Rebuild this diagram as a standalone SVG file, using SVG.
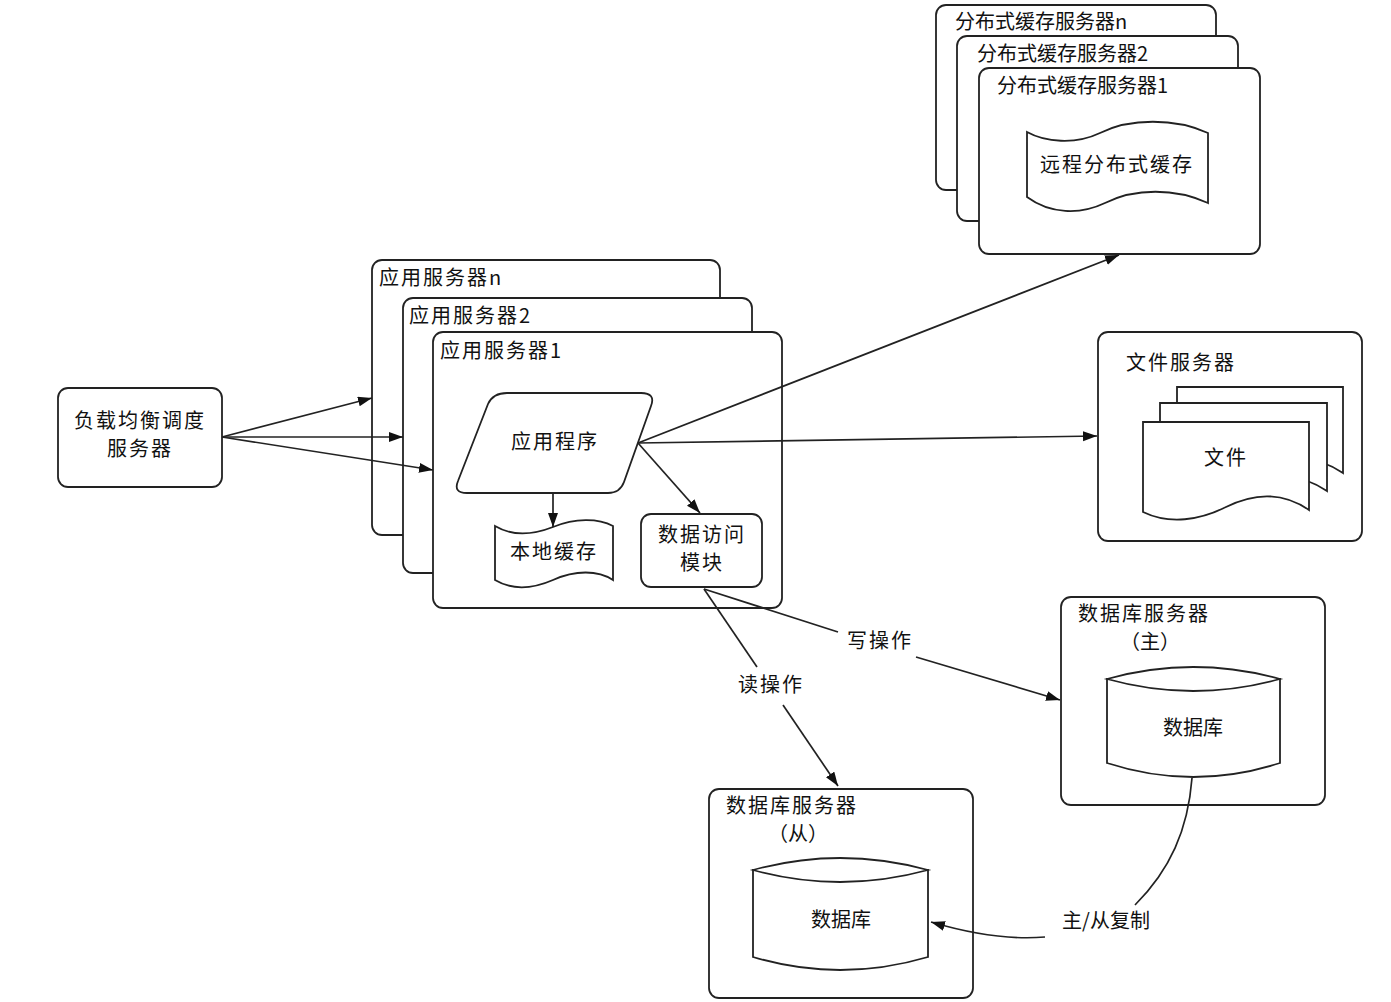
<svg xmlns="http://www.w3.org/2000/svg" width="1391" height="1002" viewBox="0 0 1391 1002">
<style>
.box{fill:#fff;stroke:#222;stroke-width:1.8}
.shape{fill:#fff;stroke:#222;stroke-width:1.8}
.t{font-family:"Noto Sans CJK SC","Noto Sans CJK JP",sans-serif;font-size:20px;fill:#111}
.m{text-anchor:middle}
.ls{letter-spacing:2px}
.ln{fill:none;stroke:#222;stroke-width:1.7}
</style>
<defs>
<marker id="ah" markerWidth="15" markerHeight="11" refX="14" refY="5" orient="auto" markerUnits="userSpaceOnUse">
<path d="M0,0 L14,5 L0,10 Z" fill="#111"/>
</marker>
</defs>
<rect width="1391" height="1002" fill="#fff"/>

<g id="dcache-n">
<rect class="box" x="936" y="5" width="280" height="185" rx="10"/>
<text class="t" x="955" y="29" font-size="19">分布式缓存服务器n</text>
</g>
<g id="dcache-2">
<rect class="box" x="957" y="36" width="281" height="185" rx="10"/>
<text class="t" x="977" y="61" font-size="19">分布式缓存服务器2</text>
</g>
<g id="dcache-1">
<rect class="box" x="979" y="68" width="281" height="186" rx="10"/>
<text class="t" x="997" y="93" font-size="19">分布式缓存服务器1</text>
<path class="shape" d="M1027,132 C1045,142 1075,145 1100,133 C1130,118 1175,118 1208,133 L1208,203 C1175,188 1135,188 1105,203 C1080,215 1050,214 1027,197 Z"/>
<text class="t m ls" x="1117" y="172">远程分布式缓存</text>
</g>

<g id="app-n">
<rect class="box" x="372" y="260" width="348" height="275" rx="10"/>
<text class="t ls" x="379" y="285">应用服务器n</text>
</g>
<g id="app-2">
<rect class="box" x="403" y="298" width="349" height="275" rx="10"/>
<text class="t ls" x="409" y="323">应用服务器2</text>
</g>
<g id="app-1">
<rect class="box" x="433" y="332" width="349" height="276" rx="10"/>
<text class="t ls" x="440" y="358">应用服务器1</text>
</g>
<g id="app-program">
<path class="shape" d="M507,393 L641,393 Q656,393 651,406 L624,482 Q620,493 608,493 L467,493 Q453,493 458,481 L488,404 Q493,393 507,393 Z"/>
<text class="t m ls" x="555" y="449">应用程序</text>
</g>
<g id="local-cache">
<path class="shape" d="M495,526 C510,535 530,536 553,527 C575,518 598,518 613,526 L613,580 C598,570 575,570 553,580 C530,590 510,589 495,580 Z"/>
<text class="t m ls" x="554" y="559">本地缓存</text>
</g>
<g id="data-access">
<rect class="box" x="641" y="514" width="121" height="73" rx="10"/>
<text class="t m ls" x="702" y="542">数据访问</text>
<text class="t m ls" x="702" y="570">模块</text>
</g>

<g id="load-balancer">
<rect class="box" x="58" y="388" width="164" height="99" rx="10"/>
<text class="t m ls" x="140" y="428">负载均衡调度</text>
<text class="t m ls" x="140" y="456">服务器</text>
</g>

<g id="file-server">
<rect class="box" x="1098" y="332" width="264" height="209" rx="10"/>
<text class="t ls" x="1126" y="370">文件服务器</text>
<path class="shape" d="M1177,387 H1343 V473 C1314,453 1284,458 1260,470 C1234,483 1204,488 1177,475 Z"/>
<path class="shape" d="M1160,403 H1327 V491 C1298,471 1268,476 1244,488 C1218,501 1188,506 1160,493 Z"/>
<path class="shape" d="M1143,422 H1309 V510 C1280,490 1250,495 1226,507 C1200,520 1170,525 1143,512 Z"/>
<text class="t m ls" x="1226" y="465">文件</text>
</g>

<g id="db-master">
<rect class="box" x="1061" y="597" width="264" height="208" rx="10"/>
<text class="t ls" x="1078" y="621">数据库服务器</text>
<text class="t" x="1120" y="649">（主）</text>
<path class="shape" d="M1107,679 V763 Q1193,791 1280,763 V679 Z"/>
<path class="shape" d="M1107,679 Q1193,655 1280,679 Q1193,703 1107,679 Z"/>
<text class="t m" x="1193" y="735">数据库</text>
</g>

<g id="db-slave">
<rect class="box" x="709" y="789" width="264" height="209" rx="10"/>
<text class="t ls" x="726" y="813">数据库服务器</text>
<text class="t" x="768" y="841">（从）</text>
<path class="shape" d="M753,870 V957 Q840,983 928,957 V870 Z"/>
<path class="shape" d="M753,870 Q840,846 928,870 Q840,894 753,870 Z"/>
<text class="t m" x="841" y="927">数据库</text>
</g>

<g id="connectors">
<line class="ln" x1="222" y1="437" x2="372" y2="398" marker-end="url(#ah)"/>
<line class="ln" x1="222" y1="437" x2="403" y2="437" marker-end="url(#ah)"/>
<line class="ln" x1="222" y1="437" x2="433" y2="470" marker-end="url(#ah)"/>
<line class="ln" x1="553" y1="493" x2="553" y2="527" marker-end="url(#ah)"/>
<line class="ln" x1="638" y1="443" x2="700" y2="513" marker-end="url(#ah)"/>
<line class="ln" x1="638" y1="443" x2="1119" y2="255" marker-end="url(#ah)"/>
<line class="ln" x1="638" y1="443" x2="1097" y2="436" marker-end="url(#ah)"/>
<line class="ln" x1="704" y1="589" x2="838" y2="632"/>
<line class="ln" x1="916" y1="657" x2="1060" y2="700" marker-end="url(#ah)"/>
<text class="t m ls" x="880" y="648">写操作</text>
<line class="ln" x1="704" y1="589" x2="757" y2="667"/>
<line class="ln" x1="783" y1="705" x2="838" y2="786" marker-end="url(#ah)"/>
<text class="t m ls" x="771" y="692">读操作</text>
<path class="ln" d="M1192,778 C1188,830 1170,870 1135,905"/>
<path class="ln" d="M1045,937 C1010,940 975,935 931,922" marker-end="url(#ah)"/>
<text class="t m" x="1106" y="928">主/从复制</text>
</g>
</svg>
